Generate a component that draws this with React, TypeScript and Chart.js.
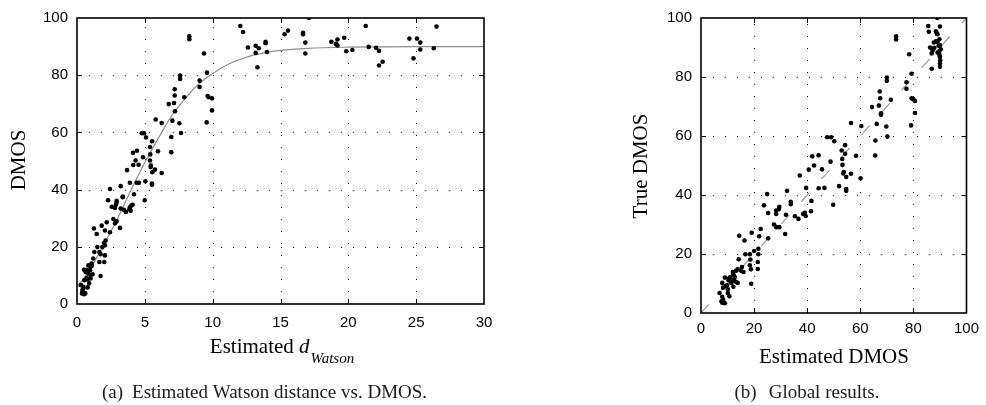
import React, { useEffect, useRef } from "react";
import { Chart, registerables } from "chart.js";
Chart.register(...registerables);

// ---- (a) Estimated Watson distance vs. DMOS ----
const watsonDist = [
  8.28, 8.28, 9.36, 12.04, 12.24, 12.6, 13.17, 13.17, 13.4, 13.3, 13.9, 13.9, 14.0, 15.3, 15.55, 16.66, 16.66, 16.83, 16.83, 17.1,
  18.75, 19.2, 19.1, 19.2, 19.1, 19.7, 19.85, 20.3, 21.28, 21.5, 22.04, 22.26, 22.26, 22.53, 24.5, 24.8, 25.06, 25.3, 25.3, 26.3, 26.5,
  6.76, 7.2, 7.2, 7.15, 7.22, 7.03, 6.95, 6.95, 7.6, 7.6, 7.9, 7.54, 7.67, 9.04, 9.04, 9.58, 9.63, 9.7, 9.95, 9.95, 9.56, 6.24, 5.8, 5.97, 6.24,
  4.77, 4.94, 5.09, 4.86, 5.04, 4.99, 5.38, 5.53, 5.4, 5.38, 5.45, 5.43, 5.55, 5.53, 5.53, 5.75,
  4.13, 4.42, 4.15, 4.32, 4.54, 4.57, 4.4, 3.9, 4.2, 3.69, 3.22, 3.37, 3.37, 2.29, 2.92, 2.92, 2.87, 2.56, 2.43, 2.8, 3.22, 3.46, 3.6, 3.9, 4.0, 3.86, 3.95, 4.1, 3.17, 2.92, 2.8, 2.68,
  1.25, 1.45, 1.82, 2.19, 2.06, 2.43, 2.11, 2.06, 1.99, 1.87, 1.5, 1.28, 1.65, 1.74, 2.06, 1.65, 2.01, 1.74, 1.08, 1.08, 1.2, 0.84, 1.0, 0.71, 0.96, 0.52, 0.64, 0.84, 1.15, 1.0, 0.71, 0.54, 0.76, 0.9, 0.79, 0.47, 0.47, 0.29, 0.42, 0.37, 0.52, 0.61, 0.4, 1.0,
];
const watsonDmos = [
  93.6, 92.6, 87.6, 97.2, 95.1, 89.7, 90.3, 87.8, 89.4, 82.8, 91.7, 91.2, 88.1, 94.3, 95.6, 94.8, 94.3, 91.4, 87.6, 100,
  91.7, 92.5, 91.0, 90.4, 90.8, 93.1, 88.4, 88.8, 97.2, 89.9, 89.6, 88.5, 83.4, 84.7, 92.8, 85.9, 92.8, 91.4, 89.0, 89.4, 97.0,
  69.9, 75.1, 72.9, 70.3, 67.4, 64.1, 58.4, 53.1, 79.9, 78.7, 72.3, 63.2, 59.8, 78.1, 75.9, 80.9, 72.7, 72.3, 71.9, 67.7, 63.5, 63.3, 64.5, 53.4, 45.8,
  59.7, 59.7, 58.2, 51.3, 42.9, 36.3, 54.9, 56.9, 52.3, 50.2, 48.4, 47.9, 46.1, 42.1, 41.7, 47.0,
  52.9, 53.6, 48.6, 50.2, 48.7, 42.4, 42.4, 42.4, 38.4, 46.8, 41.2, 37.6, 37.3, 36.3, 36.1, 35.5, 34.7, 34.0, 40.2, 33.6, 33.4, 32.9, 32.2, 33.8, 34.4, 33.1, 32.6, 34.7, 26.6, 28.9, 28.2, 29.7,
  26.4, 24.5, 27.4, 28.6, 25.7, 25.1, 22.2, 20.5, 21.3, 19.9, 19.9, 18.2, 18.2, 17.4, 17.0, 14.7, 14.7, 9.8, 14.1, 13.3, 15.9, 13.5, 13.0, 12.0, 11.8, 12.0, 11.2, 10.6, 10.4, 10.1, 9.1, 8.3, 8.6, 7.2, 5.8, 6.0, 5.3, 6.6, 4.3, 3.7, 3.4, 3.7, 4.9, 8.9,
];
const fitDist = [0, 1, 2, 3, 4, 5, 6, 7, 8, 9, 10, 11, 12, 13, 14, 15, 17, 20, 25, 30];
const fitDmos = [5.8, 12.5, 21, 30, 40, 49.5, 58, 66, 72, 77, 80.6, 83.5, 85.5, 87, 88, 88.7, 89.4, 89.8, 90, 90];
const leftXTicks = [0, 5, 10, 15, 20, 25, 30];

// ---- (b) Global results ----
const estDmos = [
  85.6, 85.8, 89.0, 88.5, 88.8, 89.1, 90.0, 86.3, 86.9, 87.3, 87.9, 87.7, 88.5, 89.1, 89.8, 89.5, 90.0, 90.3, 89.8, 89.1, 89.8, 90.0, 86.9, 86.9, 90.1, 90.0, 90.0,
  73.5, 73.5, 78.4, 79.3, 77.4, 77.4, 79.3, 79.9, 80.6, 80.6, 79.1, 70.0, 70.0, 71.5, 69.8, 70.2, 67.3, 67.5, 67.0, 67.8, 67.8, 64.4, 66.2, 65.7, 65.6,
  60.4, 56.5, 60.1, 56.5, 58.4, 54.3, 54.3, 47.5, 49.0, 50.2, 53.0, 53.2, 53.3, 53.8, 53.6, 54.7, 54.7, 54.7, 52.0, 49.8, 48.8, 45.6, 44.3, 41.9, 42.6, 40.6, 44.3, 46.5, 39.6, 37.2,
  41.6, 41.4, 39.1, 39.4, 38.5, 36.7, 35.4, 33.8, 33.8, 32.4, 32.0, 31.7, 29.5, 29.3, 28.3, 28.3, 27.5, 28.3, 29.5, 25.3, 24.9, 23.7, 25.3, 22.5, 21.9, 19.1,
  21.6, 21.6, 21.4, 21.4, 20.0, 18.4, 18.6, 18.4, 18.8, 18.9, 16.7, 16.4, 14.4, 14.2, 15.4, 16.0, 15.1, 13.8, 13.2, 12.0, 12.2, 12.7, 12.5, 13.2, 13.8, 12.0,
  11.0, 10.5, 11.4, 12.2, 9.0, 10.4, 9.8, 9.3, 10.1, 8.3, 8.0, 10.7, 10.1, 7.0, 8.0, 8.3, 8.5, 7.7, 8.0, 9.0,
];
const trueDmos = [
  97.3, 95.3, 100, 95.5, 94.7, 94.5, 97.1, 90.0, 89.7, 89.1, 89.9, 91.7, 92.1, 91.9, 92.8, 90.6, 90.8, 89.4, 88.8, 88.3, 87.5, 86.9, 88.0, 82.8, 85.7, 84.6, 83.5,
  93.8, 92.7, 87.7, 81.1, 78.2, 76.0, 72.8, 72.5, 71.9, 67.8, 63.6, 79.8, 78.7, 72.3, 63.2, 59.8, 75.1, 72.8, 70.3, 67.7, 67.2, 69.8, 64.1, 58.5, 53.4,
  63.4, 64.4, 45.7, 47.2, 53.3, 56.9, 54.0, 59.6, 59.6, 58.2, 55.1, 52.2, 50.2, 47.8, 47.3, 46.1, 42.0, 41.4, 43.0, 36.7, 51.3, 48.7, 53.5, 53.1, 50.0, 48.6, 42.3, 42.4, 42.4, 46.6,
  38.0, 34.5, 34.0, 32.9, 33.6, 31.9, 32.8, 36.9, 37.7, 41.4, 33.3, 26.8, 36.0, 35.2, 34.7, 33.6, 30.0, 29.1, 29.1, 33.9, 40.3, 36.5, 25.3, 28.5, 26.0, 27.2,
  21.8, 19.9, 17.3, 14.9, 21.0, 19.9, 18.1, 16.2, 14.8, 9.9, 19.9, 24.6, 26.2, 18.2, 15.6, 13.9, 14.3, 14.8, 14.3, 13.9, 13.1, 12.2, 11.1, 10.5, 10.2, 11.1,
  12.2, 11.7, 10.2, 8.9, 12.0, 11.1, 9.4, 9.1, 8.0, 8.6, 10.2, 5.7, 6.8, 6.8, 5.5, 4.6, 3.8, 4.0, 3.5, 3.3,
];
const diagX = [0, 100];
const diagY = [0, 100];
const rightXTicks = [0, 20, 40, 60, 80, 100];
const yTicks = [0, 20, 40, 60, 80, 100];

const SANS = "'Liberation Sans', Arial, sans-serif";
const SERIF = "'Liberation Serif', 'Times New Roman', serif";

type Deco = {
  xTicks: number[];
  yTicks: number[];
  draw: (ctx: CanvasRenderingContext2D) => void;
};

function decoPlugin(d: Deco) {
  return {
    id: "deco",
    beforeDatasetsDraw(chart: any) {
      const { ctx, chartArea: a, scales } = chart;
      ctx.save();
      ctx.strokeStyle = "#000";
      ctx.lineWidth = 1;
      ctx.setLineDash([1, 11]);
      for (const v of d.xTicks.slice(1, -1)) {
        const x = Math.round(scales.x.getPixelForValue(v)) + 0.5;
        ctx.beginPath();
        ctx.moveTo(x, a.bottom);
        ctx.lineTo(x, a.top);
        ctx.stroke();
      }
      for (const v of d.yTicks.slice(1, -1)) {
        const y = Math.round(scales.y.getPixelForValue(v)) + 0.5;
        ctx.beginPath();
        ctx.moveTo(a.left, y);
        ctx.lineTo(a.right, y);
        ctx.stroke();
      }
      ctx.restore();
    },
    afterDatasetsDraw(chart: any) {
      const { ctx, chartArea: a, scales } = chart;
      ctx.save();
      ctx.strokeStyle = "#000";
      ctx.lineWidth = 1;
      ctx.setLineDash([]);
      const tl = 5;
      for (const v of d.xTicks.slice(1, -1)) {
        const x = Math.round(scales.x.getPixelForValue(v)) + 0.5;
        ctx.beginPath();
        ctx.moveTo(x, a.bottom);
        ctx.lineTo(x, a.bottom - tl);
        ctx.moveTo(x, a.top);
        ctx.lineTo(x, a.top + tl);
        ctx.stroke();
      }
      for (const v of d.yTicks.slice(1, -1)) {
        const y = Math.round(scales.y.getPixelForValue(v)) + 0.5;
        ctx.beginPath();
        ctx.moveTo(a.left, y);
        ctx.lineTo(a.left + tl, y);
        ctx.moveTo(a.right, y);
        ctx.lineTo(a.right - tl, y);
        ctx.stroke();
      }
      ctx.lineWidth = 1.6;
      ctx.strokeRect(a.left, a.top, a.right - a.left, a.bottom - a.top);
      ctx.fillStyle = "#000";
      d.draw(ctx);
      ctx.restore();
    },
  };
}

function vText(ctx: CanvasRenderingContext2D, text: string, x: number, y: number) {
  ctx.save();
  ctx.translate(x, y);
  ctx.rotate(-Math.PI / 2);
  ctx.textAlign = "center";
  ctx.textBaseline = "alphabetic";
  ctx.fillText(text, 0, 0);
  ctx.restore();
}

function caption(ctx: CanvasRenderingContext2D, label: string, rest: string, cx: number, y: number, gap: number) {
  ctx.font = `19px ${SERIF}`;
  ctx.fillStyle = "#1a1a1a";
  ctx.textBaseline = "alphabetic";
  ctx.textAlign = "left";
  const w1 = ctx.measureText(label).width;
  const w2 = ctx.measureText(rest).width;
  const x0 = cx - (w1 + gap + w2) / 2;
  ctx.fillText(label, x0, y);
  ctx.fillText(rest, x0 + w1 + gap, y);
}

function baseScale(min: number, max: number, step: number, pad: number, fit: (s: any) => void) {
  return {
    type: "linear" as const,
    min,
    max,
    grid: { display: false, drawTicks: false },
    border: { display: false },
    ticks: {
      stepSize: step,
      color: "#000",
      padding: pad,
      maxRotation: 0,
      autoSkip: false,
      font: { family: SANS, size: 15 },
    },
    afterFit: fit,
  };
}

export default function App() {
  const leftRef = useRef<HTMLCanvasElement>(null);
  const rightRef = useRef<HTMLCanvasElement>(null);

  useEffect(() => {
    const left = new Chart(leftRef.current!, {
      type: "scatter",
      data: {
        datasets: [
          {
            data: watsonDist.map((x, i) => ({ x, y: watsonDmos[i] })),
            backgroundColor: "#000",
            borderWidth: 0,
            pointRadius: 2.3,
            order: 1,
          },
          {
            data: fitDist.map((x, i) => ({ x, y: fitDmos[i] })),
            showLine: true,
            borderColor: "#8c8c8c",
            borderWidth: 1.2,
            pointRadius: 0,
            cubicInterpolationMode: "monotone",
            order: 2,
          } as any,
        ],
      },
      options: {
        animation: false,
        responsive: false,
        maintainAspectRatio: false,
        layout: { padding: { left: 0, top: 16, right: 76, bottom: 0 } },
        plugins: { legend: { display: false }, tooltip: { enabled: false } },
        scales: {
          x: baseScale(0, 30, 5, 10, (s: any) => { s.height = 101; }),
          y: baseScale(0, 100, 20, 9, (s: any) => { s.width = 77; }),
        },
      },
      plugins: [
        decoPlugin({
          xTicks: leftXTicks,
          yTicks,
          draw: (ctx) => {
            ctx.font = `21px ${SERIF}`;
            vText(ctx, "DMOS", 25, 160);
            // x title with subscript
            const t1 = "Estimated ";
            ctx.font = `21px ${SERIF}`;
            const w1 = ctx.measureText(t1).width;
            ctx.font = `italic 21px ${SERIF}`;
            const w2 = ctx.measureText("d").width;
            ctx.font = `italic 15px ${SERIF}`;
            const w3 = ctx.measureText("Watson").width;
            const x0 = 282 - (w1 + w2 + 1 + w3) / 2;
            ctx.textAlign = "left";
            ctx.textBaseline = "alphabetic";
            ctx.font = `21px ${SERIF}`;
            ctx.fillText(t1, x0, 353);
            ctx.font = `italic 21px ${SERIF}`;
            ctx.fillText("d", x0 + w1, 353);
            ctx.font = `italic 15px ${SERIF}`;
            ctx.fillText("Watson", x0 + w1 + w2 + 1, 363);
            caption(ctx, "(a)", "Estimated Watson distance vs. DMOS.", 264.5, 398, 9);
          },
        }),
      ],
    });

    const right = new Chart(rightRef.current!, {
      type: "scatter",
      data: {
        datasets: [
          {
            data: estDmos.map((x, i) => ({ x, y: trueDmos[i] })),
            backgroundColor: "#000",
            borderWidth: 0,
            pointRadius: 2.3,
            order: 1,
          },
          {
            data: diagX.map((x, i) => ({ x, y: diagY[i] })),
            showLine: true,
            borderColor: "#9a9a9a",
            borderWidth: 1.2,
            borderDash: [12, 18],
            pointRadius: 0,
            order: 2,
          } as any,
        ],
      },
      options: {
        animation: false,
        responsive: false,
        maintainAspectRatio: false,
        layout: { padding: { left: 0, top: 16, right: 15, bottom: 0 } },
        plugins: { legend: { display: false }, tooltip: { enabled: false } },
        scales: {
          x: baseScale(0, 100, 20, 7, (s: any) => { s.height = 92; }),
          y: baseScale(0, 100, 20, 9, (s: any) => { s.width = 141; }),
        },
      },
      plugins: [
        decoPlugin({
          xTicks: rightXTicks,
          yTicks,
          draw: (ctx) => {
            ctx.font = `21px ${SERIF}`;
            vText(ctx, "True DMOS", 87, 166);
            ctx.textAlign = "center";
            ctx.textBaseline = "alphabetic";
            ctx.fillText("Estimated DMOS", 274, 363);
            caption(ctx, "(b)", "Global results.", 247, 398, 12);
          },
        }),
      ],
    });

    return () => {
      left.destroy();
      right.destroy();
    };
  }, []);

  return (
    <div style={{ position: "absolute", left: 0, top: 0, width: 986, height: 405, background: "#fff", overflow: "hidden" }}>
      <canvas ref={leftRef} width={560} height={405} style={{ position: "absolute", left: 0, top: 0, width: 560, height: 405 }} />
      <canvas ref={rightRef} width={426} height={405} style={{ position: "absolute", left: 560, top: 0, width: 426, height: 405 }} />
    </div>
  );
}
